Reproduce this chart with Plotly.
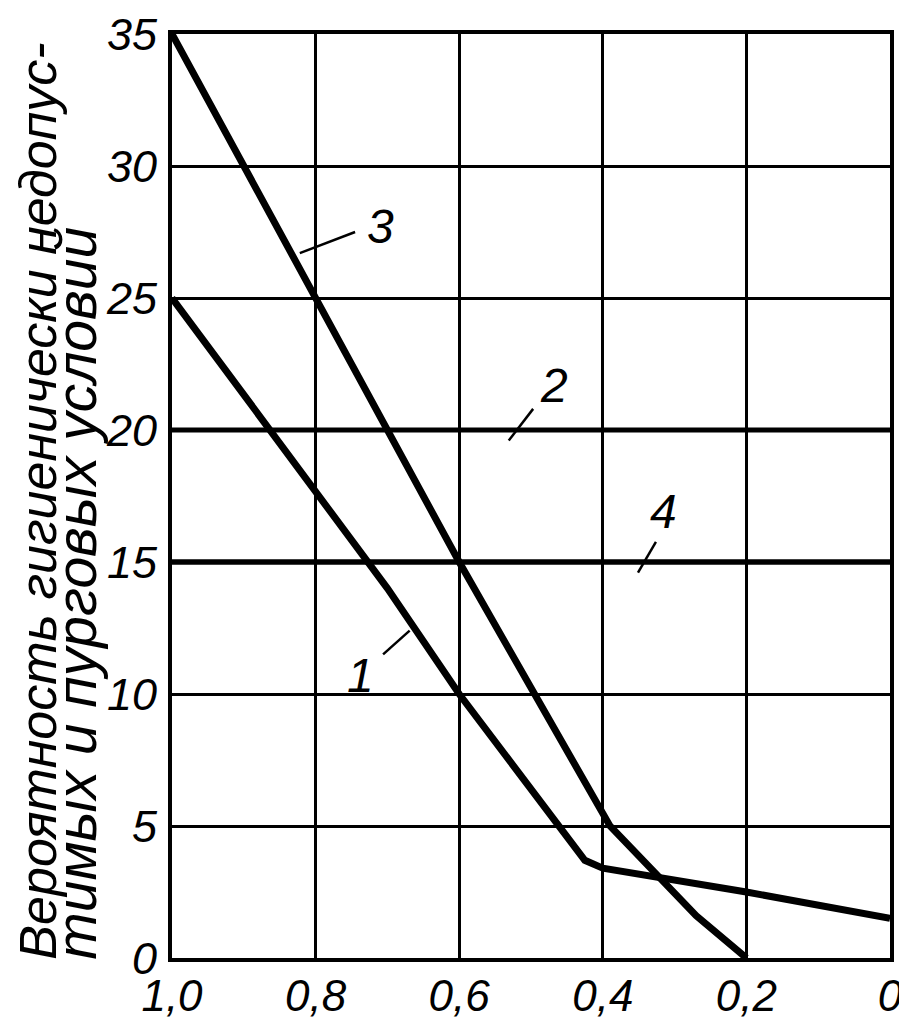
import plotly.graph_objects as go

# ---- data ----
x_ticks = [1.0, 0.8, 0.6, 0.4, 0.2, 0.0]
x_tick_labels = ["1,0", "0,8", "0,6", "0,4", "0,2", "0"]
y_ticks = [0, 5, 10, 15, 20, 25, 30, 35]
y_tick_labels = ["0", "5", "10", "15", "20", "25", "30", "35"]

curve1_x = [1.0, 0.7, 0.6, 0.46, 0.425, 0.40, 0.2, 0.0]
curve1_y = [25.0, 14.0, 10.0, 5.0, 3.7, 3.4, 2.5, 1.5]

curve2_x = [1.0, 0.0]
curve2_y = [20.0, 20.0]

curve3_x = [1.0, 0.8, 0.6, 0.39, 0.27, 0.2]
curve3_y = [35.0, 25.0, 15.0, 5.0, 1.6, 0.0]

curve4_x = [1.0, 0.0]
curve4_y = [15.0, 15.0]

curve_labels = ["1", "2", "3", "4"]
label_x = [0.737, 0.468, 0.709, 0.316]
label_y = [10.7, 21.7, 27.7, 16.9]
leader_x = [[0.706, 0.669], [0.531, 0.497], [0.822, 0.745], [0.351, 0.326]]
leader_y = [[11.5, 12.4], [19.6, 20.8], [26.7, 27.5], [14.6, 15.76]]

y_title_line1 = "Вероятность гигиенически недопус-"
y_title_line2 = "тимых и пурговых условий"

FONT = "Liberation Sans, Arial, sans-serif"

fig = go.Figure()
for xs, ys, w in [(curve1_x, curve1_y, 7), (curve2_x, curve2_y, 5),
                  (curve3_x, curve3_y, 7), (curve4_x, curve4_y, 5.5)]:
    fig.add_trace(go.Scatter(x=xs, y=ys, mode="lines",
                             line=dict(color="black", width=w),
                             showlegend=False, hoverinfo="skip"))

for lx, ly in zip(leader_x, leader_y):
    fig.add_trace(go.Scatter(x=lx, y=ly, mode="lines",
                             line=dict(color="black", width=2.5),
                             showlegend=False, hoverinfo="skip"))

for t, lx, ly in zip(curve_labels, label_x, label_y):
    fig.add_annotation(x=lx, y=ly, text=t, showarrow=False,
                       font=dict(family=FONT, size=48, color="black", style="italic"))

fig.add_annotation(xref="paper", yref="paper", x=-0.186, y=-0.004,
                   text=y_title_line1, textangle=-90, showarrow=False,
                   xanchor="center", yanchor="bottom",
                   font=dict(family=FONT, size=52, color="black", style="italic"))
fig.add_annotation(xref="paper", yref="paper", x=-0.133, y=-0.004,
                   text=y_title_line2, textangle=-90, showarrow=False,
                   xanchor="center", yanchor="bottom",
                   font=dict(family=FONT, size=57, color="black", style="italic"))

axis_common = dict(showgrid=True, gridcolor="black", gridwidth=3,
                   showline=True, linecolor="black", linewidth=4, mirror=True,
                   zeroline=False, ticks="", automargin=False,
                   ticklabeloverflow="allow")

fig.update_xaxes(range=[1.0, 0.0], tickvals=x_ticks, ticktext=x_tick_labels,
                 ticklabelstandoff=-4,
                 tickfont=dict(family=FONT, size=44, color="black", style="italic"),
                 **axis_common)
fig.update_yaxes(range=[0, 35], tickvals=y_ticks, ticktext=y_tick_labels,
                 ticklabelstandoff=2,
                 tickfont=dict(family=FONT, size=45, color="black", style="italic"),
                 **axis_common)

# page body has an 8px margin; figure sized to fit the 907x1034 window
fig.update_layout(width=899, height=1018,
                  margin=dict(l=164, r=17, t=26, b=68),
                  paper_bgcolor="white", plot_bgcolor="white")

fig.write_html("out.html")
